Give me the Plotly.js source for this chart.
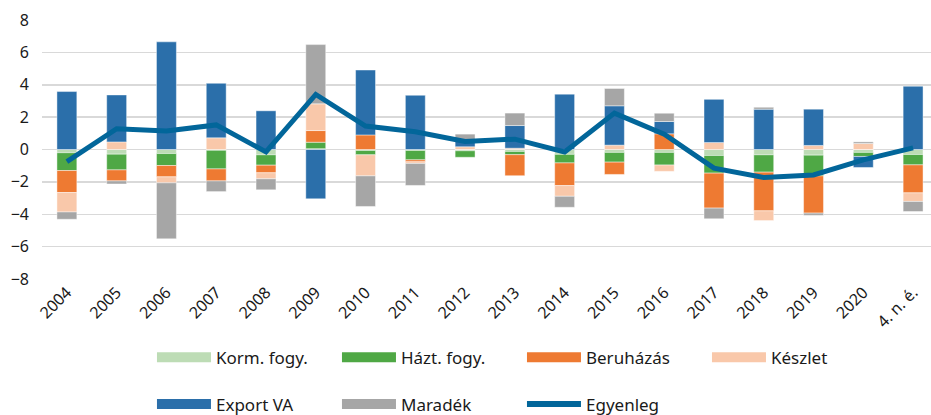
<!DOCTYPE html>
<html>
<head>
<meta charset="utf-8">
<script src="https://cdn.plot.ly/plotly-3.0.1.min.js"></script>
<style>html,body{margin:0;padding:0;background:#fff;}#chart{width:931px;height:415px;}</style>
</head>
<body>
<div id="chart"></div>
<script>
const categories = ["2004","2005","2006","2007","2008","2009","2010","2011","2012","2013","2014","2015","2016","2017","2018","2019","2020","4. n. é."];
const kormFogy  = [-0.20,-0.29,-0.25,-0.05,-0.33, 0.05,-0.06,-0.06,-0.08,-0.12,-0.30,-0.18,-0.18,-0.37,-0.33,-0.35,-0.18,-0.31];
const haztFogy  = [-1.10,-0.97,-0.74,-1.15,-0.64, 0.40,-0.27,-0.58,-0.40,-0.20,-0.53,-0.60,-0.78,-1.09,-1.07,-1.28,-0.25,-0.64];
const beruhazas = [-1.36,-0.68,-0.70,-0.74,-0.47, 0.72, 0.90,-0.12, 0.00,-1.30,-1.40,-0.76, 0.97,-2.16,-2.39,-2.30, 0.00,-1.73];
const keszlet   = [-1.20, 0.47,-0.37, 0.72,-0.37, 1.65,-1.30,-0.10, 0.17, 0.08,-0.66, 0.27,-0.39, 0.43,-0.60, 0.25, 0.37,-0.53];
const exportVA  = [ 3.58, 2.90, 6.65, 3.37, 2.39,-3.05, 4.01, 3.35, 0.40, 1.40, 3.42, 2.43, 0.76, 2.67, 2.49, 2.24,-0.68, 3.91];
const maradek   = [-0.45,-0.19,-3.46,-0.66,-0.68, 3.66,-1.89,-1.36, 0.38, 0.77,-0.68, 1.07, 0.51,-0.66, 0.12,-0.14, 0.10,-0.62];
const egyenleg  = [-0.75, 1.28, 1.15, 1.52,-0.15, 3.40, 1.45, 1.10, 0.50, 0.64,-0.15, 2.25, 0.95,-1.15,-1.73,-1.57,-0.64, 0.10];
const yTicks = [-8,-6,-4,-2,0,2,4,6,8];

const names = ["Korm. fogy.","Házt. fogy.","Beruházás","Készlet","Export VA","Maradék"];
const colors = ["#bddcb5","#4fa845","#ee7a32","#f9c8aa","#2b6faa","#a6a6a6"];
const series = [kormFogy, haztFogy, beruhazas, keszlet, exportVA, maradek];
const legendOf = ["legend","legend","legend","legend","legend2","legend2"];
const x = categories.map((c,i)=>i);

const traces = [];
series.forEach((vals,k)=>{
  traces.push({
    type:"bar", x:x, y:vals, name:names[k], showlegend:false,
    marker:{color:colors[k], line:{color:"rgba(255,255,255,0.55)", width:0.8}},
    hoverinfo:"skip"
  });
});
traces.push({
  type:"scatter", mode:"lines", x:x, y:egyenleg, name:"Egyenleg", showlegend:false,
  line:{color:"#02669a", width:5, shape:"linear"}
});
// legend entries
series.forEach((vals,k)=>{
  traces.push({
    type:"scatter", mode:"lines", x:[null], y:[null], name:names[k],
    legend:legendOf[k], line:{color:colors[k], width:14}
  });
});
traces.push({
  type:"scatter", mode:"lines", x:[null], y:[null], name:"Egyenleg",
  legend:"legend2", line:{color:"#02669a", width:6}
});

const fontFam = "'Noto Sans', 'DejaVu Sans', sans-serif";
const legendBase = {orientation:"h", xanchor:"left", yanchor:"middle", itemwidth:54,
  entrywidth:116, entrywidthmode:"pixels", font:{size:17}, bgcolor:"rgba(0,0,0,0)", borderwidth:0};
const layout = {
  width:931, height:415,
  margin:{l:42, r:0, t:20, b:136, autoexpand:false},
  paper_bgcolor:"#fff", plot_bgcolor:"#fff",
  barmode:"relative", bargap:0.6,
  font:{family:fontFam, size:16, color:"#1a1a1a"},
  xaxis:{
    range:[-0.5,17.36], tickmode:"array", tickvals:x, ticktext:categories,
    tickangle:-45, showgrid:false, zeroline:false, showline:false, ticks:"",
    tickfont:{size:16}, fixedrange:true
  },
  yaxis:{
    range:[-8,8], tickmode:"array", tickvals:yTicks, ticktext:yTicks.map(v=>v<0?"\u2212"+Math.abs(v):String(v)),
    showgrid:true, gridcolor:"#d9d9d9", gridwidth:1.5, zeroline:true, zerolinecolor:"#d9d9d9", zerolinewidth:1.5,
    showline:false, ticks:"", tickfont:{size:16}, ticklabelstandoff:12, fixedrange:true
  },
  legend:Object.assign({}, legendBase, {x:0.1237, y:-0.3035}),
  legend2:Object.assign({}, legendBase, {x:0.1237, y:-0.4848}),
  showlegend:true
};
Plotly.newPlot("chart", traces, layout, {displayModeBar:false, staticPlot:true});
</script>
</body>
</html>
